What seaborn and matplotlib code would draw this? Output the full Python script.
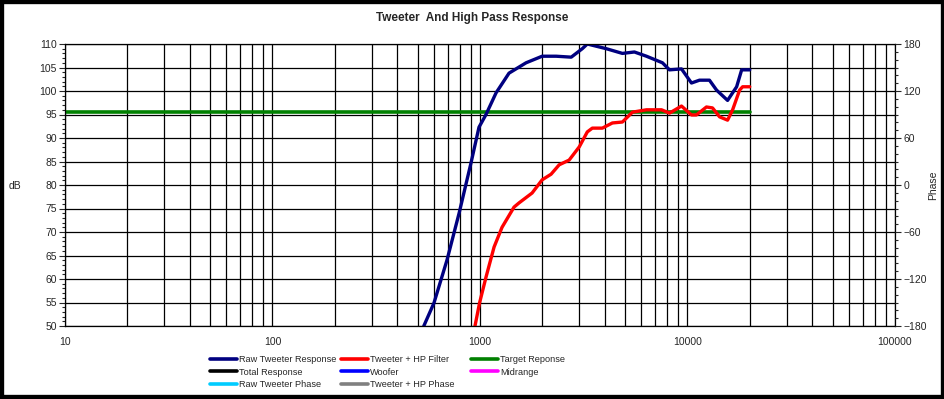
import numpy as np
import matplotlib
matplotlib.use("Agg")
import matplotlib.pyplot as plt
import seaborn as sns
from matplotlib.lines import Line2D
from matplotlib.patches import Rectangle
from matplotlib.ticker import MultipleLocator, LogLocator, NullFormatter

# raw tweeter response (Hz, dB)
raw_freq = [536, 600, 693, 793, 905, 989, 1069, 1195, 1380, 1667, 1993, 2329,
            2752, 3111, 3290, 4062, 4856, 5548, 6342, 7574, 8187, 9357, 10450,
            11420, 12760, 13800, 15600, 17250, 18240, 19950]
raw_db = [50.0, 54.9, 64.0, 74.0, 84.7, 92.3, 95.0, 99.6, 103.8, 106.0, 107.4,
          107.4, 107.2, 109.0, 110.0, 109.0, 108.0, 108.3, 107.4, 106.0, 104.5,
          104.7, 101.7, 102.3, 102.3, 100.2, 98.0, 100.9, 104.5, 104.5]

# tweeter + high pass filter
hp_freq = [946, 995, 1069, 1169, 1277, 1459, 1543, 1783, 1993, 2201, 2408, 2689,
           3007, 3290, 3477, 3887, 4346, 4856, 5430, 6342, 7494, 8187, 9357,
           10450, 11040, 12340, 13200, 14280, 15600, 16500, 17830, 18440, 19950]
hp_db = [50.0, 54.9, 60.4, 66.8, 71.0, 75.3, 76.2, 78.3, 81.1, 82.3, 84.3, 85.3,
         88.1, 91.3, 92.1, 92.1, 93.2, 93.4, 95.5, 96.0, 96.0, 95.3, 96.8,
         94.9, 94.9, 96.6, 96.4, 94.5, 93.8, 96.0, 100.2, 100.9, 100.9]

# target response
target_freq = [10, 20000]
target_db = [95.5, 95.5]

# legend, one list per column
legend_cols = [
    ["Raw Tweeter Response", "Total Response", "Raw Tweeter Phase"],
    ["Tweeter + HP Filter", "Woofer", "Tweeter + HP Phase"],
    ["Target Reponse", "Midrange"],
]
legend_colors = [
    ["#000080", "#000000", "#00ccff"],
    ["#ff0000", "#0000ff", "#808080"],
    ["#008000", "#ff00ff"],
]

sns.set_style("white")
plt.rcParams['font.family'] = ['Liberation Sans', 'DejaVu Sans']

fig = plt.figure(figsize=(9.45, 3.99), dpi=100)
ax = fig.add_axes([65 / 945, 1 - 326 / 399, 830 / 945, 282 / 399])

sns.lineplot(x=target_freq, y=target_db, ax=ax, color="#008000", lw=2.6)
sns.lineplot(x=raw_freq, y=raw_db, ax=ax, color="#000080", lw=2.4)
sns.lineplot(x=hp_freq, y=hp_db, ax=ax, color="#ff0000", lw=2.4)

ax.set_xscale("log")
ax.set_xlim(10, 100000)
ax.set_ylim(50, 110)

# grid: every log minor and every 5 dB
ax.xaxis.set_major_locator(LogLocator(base=10, numticks=10))
ax.xaxis.set_minor_locator(LogLocator(base=10, subs=np.arange(2, 10), numticks=20))
ax.xaxis.set_minor_formatter(NullFormatter())
ax.xaxis.set_major_formatter(plt.FuncFormatter(lambda v, p: f"{int(v)}"))
ax.yaxis.set_major_locator(MultipleLocator(5))
ax.yaxis.set_minor_locator(MultipleLocator(1))
ax.grid(True, which="both", axis="x", color="black", lw=0.9)
ax.grid(True, which="major", axis="y", color="black", lw=0.9)
ax.set_axisbelow(True)

ax.tick_params(axis="x", which="both", length=0, labelsize=7.5, pad=8)
ax.tick_params(axis="y", which="major", length=4, width=0.8, labelsize=7.5,
               direction="out", left=True, pad=2)
ax.tick_params(axis="y", which="minor", length=2, width=0.8, direction="out", left=True)
for s in ax.spines.values():
    s.set_color("black")
    s.set_linewidth(0.9)
ax.set_xlabel("")
ax.set_ylabel("dB", rotation=0, fontsize=7.5)
ax.yaxis.set_label_coords(-0.06, 0.48)

ax2 = ax.twinx()
ax2.set_ylim(-180, 180)
ax2.yaxis.set_major_locator(MultipleLocator(60))
ax2.yaxis.set_minor_locator(MultipleLocator(10))
ax2.tick_params(axis="y", which="major", length=4, width=0.8, labelsize=7.5,
                direction="out", right=True, pad=2)
ax2.tick_params(axis="y", which="minor", length=2, width=0.8, direction="out", right=True)
ax2.set_ylabel("Phase", fontsize=7.5)
ax2.yaxis.set_label_coords(1.04, 0.5)
for s in ax2.spines.values():
    s.set_visible(False)

fig.suptitle("Tweeter  And High Pass Response", fontsize=8.5, fontweight="bold",
             y=1 - 18 / 399, va="center")

col_x = [210, 341, 471]
for x0, labels, colors in zip(col_x, legend_cols, legend_colors):
    handles = [Line2D([], [], color=c, lw=2.6) for c in colors]
    fig.legend(handles, labels, loc="upper left",
               bbox_to_anchor=(x0 / 945, 1 - 355 / 399), frameon=False,
               fontsize=6.6, handlelength=3.0, handletextpad=0.15,
               labelspacing=0.4, borderpad=0, borderaxespad=0)

fig.patches.append(Rectangle((0, 0), 1, 1, transform=fig.transFigure, fill=False,
                             lw=6, edgecolor="black"))

fig.savefig("out.png", dpi=100)
